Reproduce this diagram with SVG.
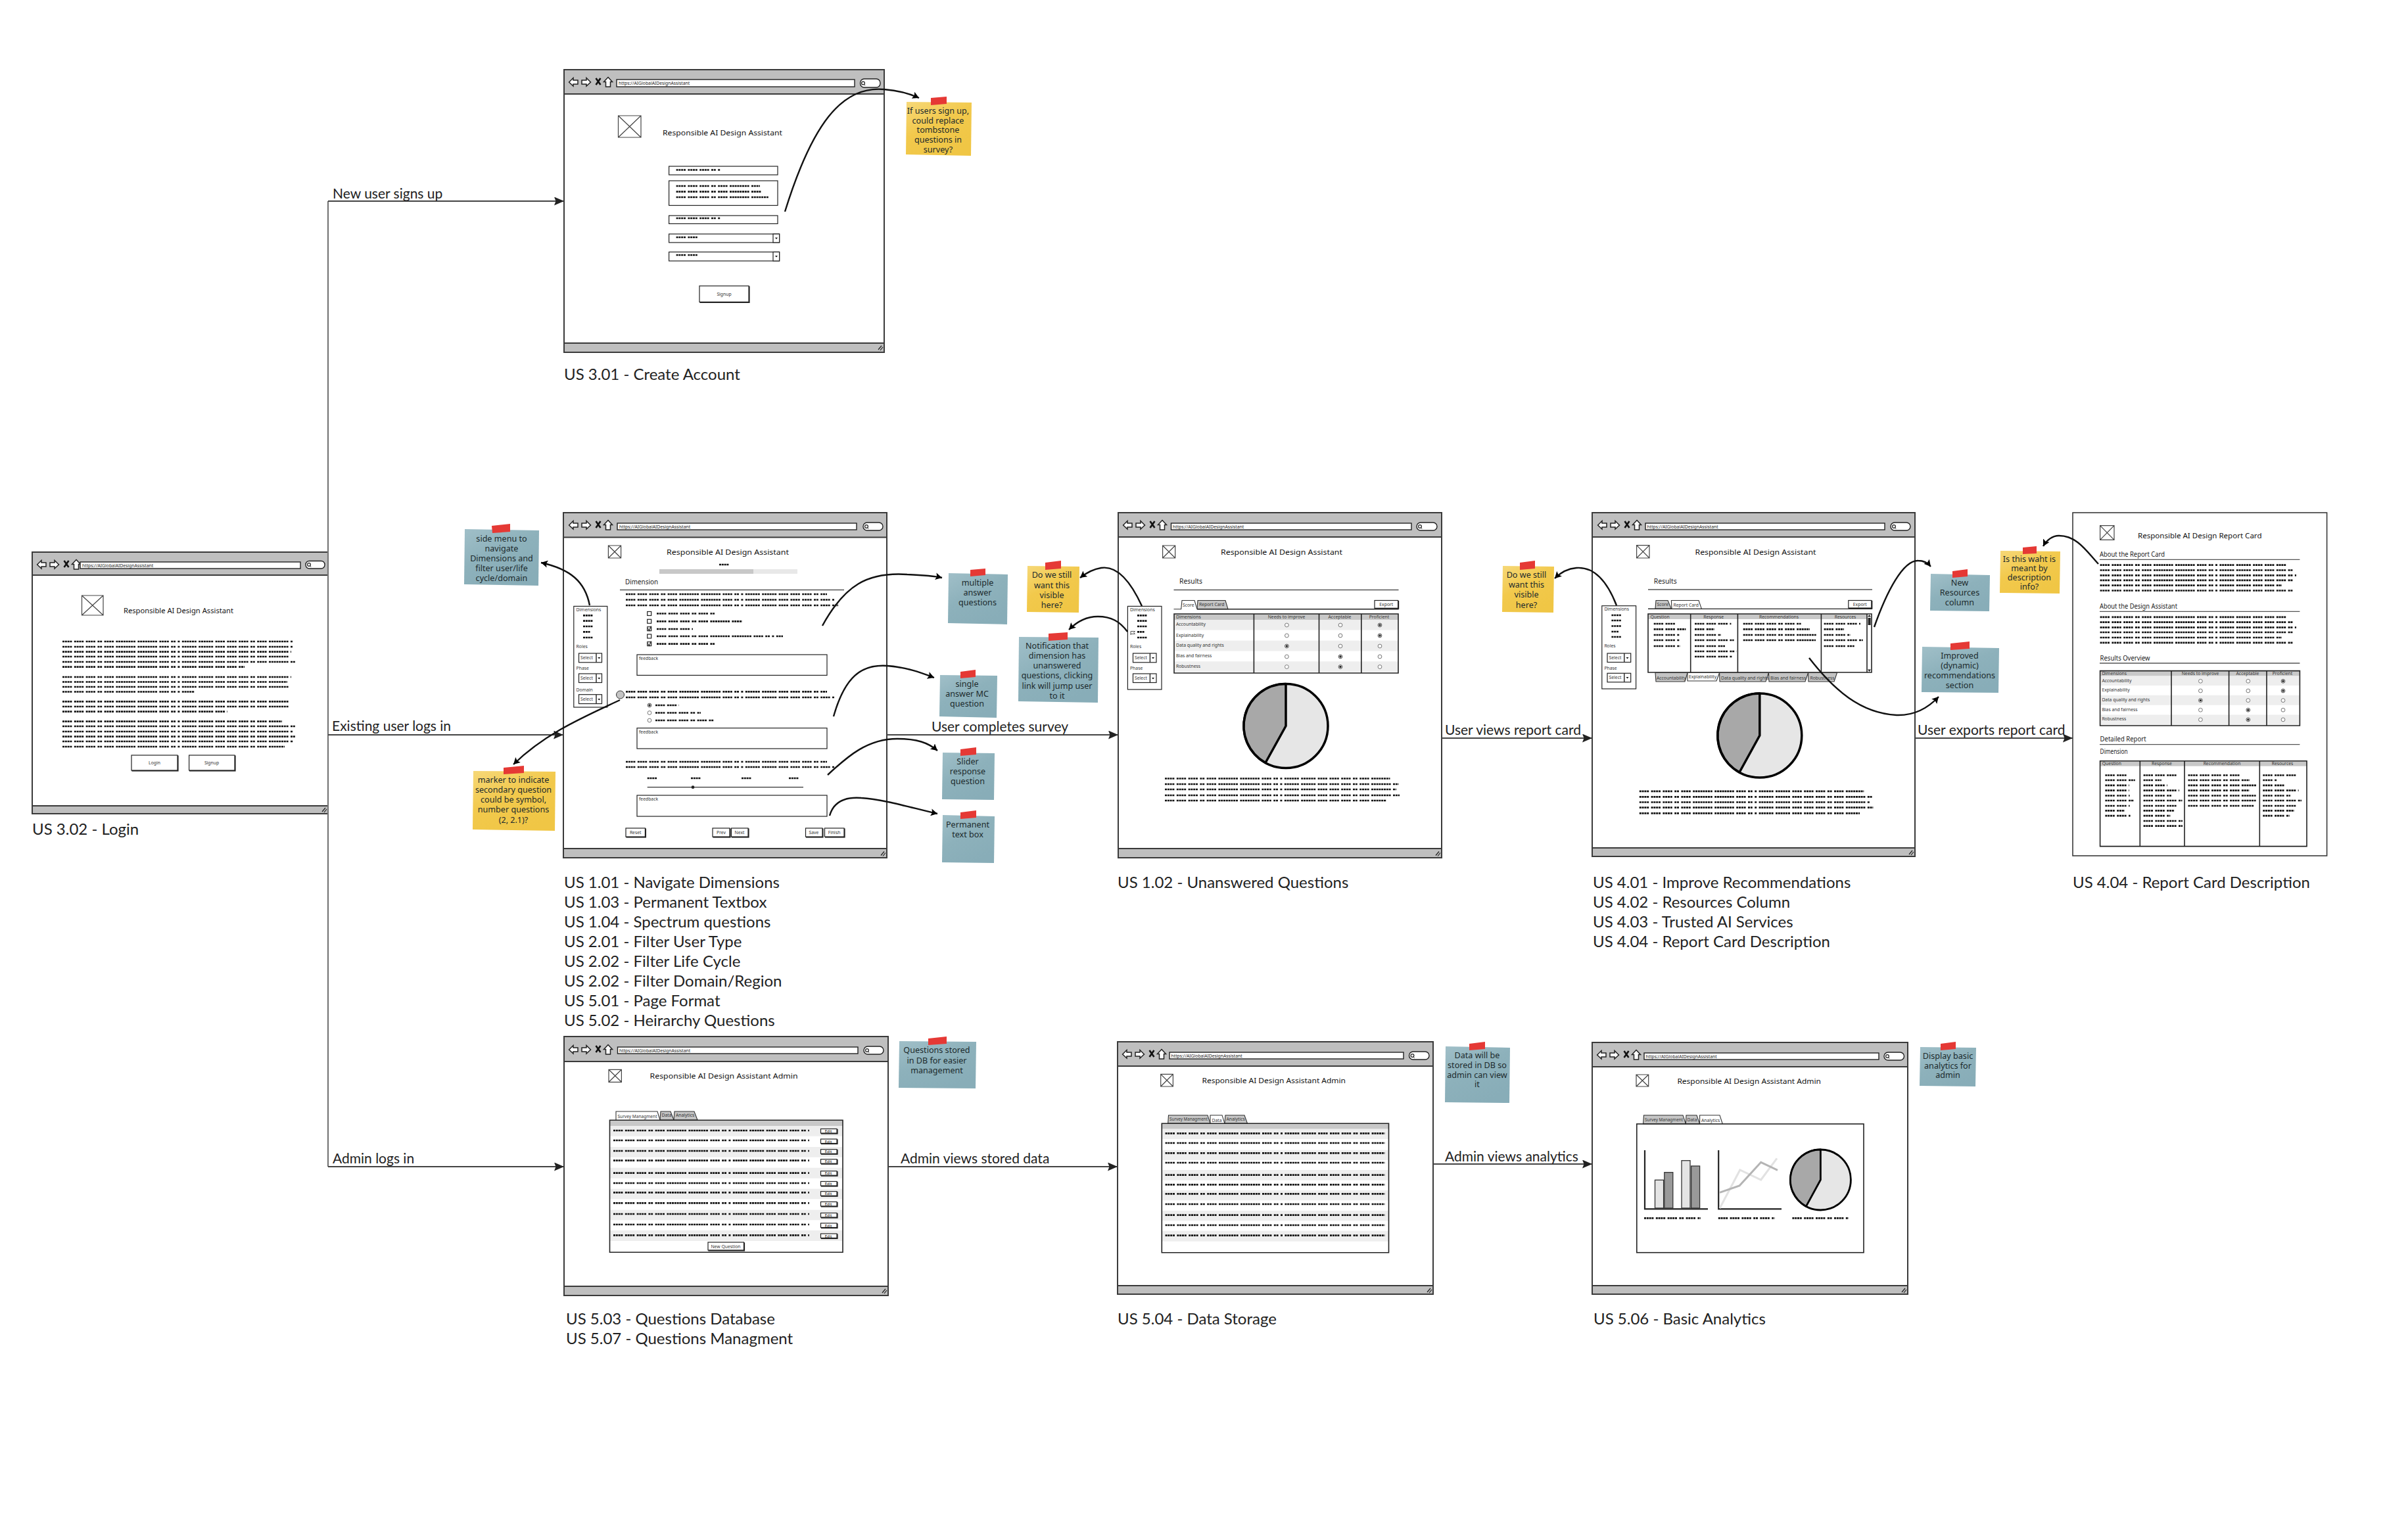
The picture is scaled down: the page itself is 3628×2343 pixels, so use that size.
<svg xmlns="http://www.w3.org/2000/svg" width="3628" height="2343" viewBox="0 0 3628 2343">
<style>
text{font-family:"Noto Sans","Open Sans",sans-serif;fill:#222}
.b{fill:#fff;stroke:#3a3a3a;stroke-width:2}
.bar{fill:#bfbfbf;stroke:#3a3a3a;stroke-width:2}
.u{fill:#fff;stroke:#222;stroke-width:1.4}
.f{fill:#fff;stroke:#222;stroke-width:1.2}
.ph{fill:#fff;stroke:#444;stroke-width:1.2}
.s{fill:none;stroke:#111;stroke-width:2.7;stroke-dasharray:3 .8 3 .8 3 .8 3 3.4 3 .8 3 .8 3 .8 3 3.4 3 .8 3 .8 3 .8 3 3.4 3 .8 3 3.4 3 .8 3 .8 3 .8 3 3.4 3 .8 3 .8 3 .8 3 .8 3 .8 3 .8 3 .8 3 3.4 3 .8 3 .8 3 .8 3 .8 3 .8 3 .8 3 .8 3 3.4 3 .8 3 .8 3 .8 3 3.4 3 .8 3 3.4 3 3.4 3 .8 3 .8 3 .8 3 .8 3 .8 3 3.4 3 .8 3 .8 3 .8 3 .8 3 .8 3 3.4}
.btn{fill:#fff;stroke:#222;stroke-width:1.2;filter:drop-shadow(1.2px 1.5px 0 #222)}
.hr{fill:none;stroke:#555;stroke-width:1.3}
.ln{fill:none;stroke:#222;stroke-width:1.4}
.tabg{fill:#c4c4c4;stroke:#333;stroke-width:1.1}
.tabw{fill:#fff;stroke:#333;stroke-width:1.1}
.hd{fill:#c8c8c8}
.al{fill:#eee}
.tf{fill:none;stroke:#222;stroke-width:1.6}
.pie{fill:#e6e6e6;stroke:#000;stroke-width:3.5}
.wed{fill:#a8a8a8;stroke:#000;stroke-width:3.5;stroke-linejoin:round}
.tp{fill:#e53935}
.gy{fill:url(#gy)}
.gb{fill:url(#gb)}
.nt{font-size:12.6px;text-anchor:middle;fill:#1c2a2c}
.url{font-size:6.8px;fill:#222}
.tt{font-size:11.5px;fill:#111}
.h2{font-size:11px;fill:#222}
.m{font-size:6.8px;fill:#333}
.mc{font-size:6.8px;fill:#333;text-anchor:middle}
.cap{font-family:Lato,"Open Sans",sans-serif;font-size:24px;fill:#222}
.lab{font-family:Lato,"Open Sans",sans-serif;font-size:21px;fill:#222}
.st{fill:none;stroke:#444;stroke-width:2.2}
.cv{fill:none;stroke:#111;stroke-width:2.4}
</style>
<defs>
<linearGradient id="gy" x1="0" y1="0" x2="0.6" y2="1"><stop offset="0" stop-color="#f6d878"/><stop offset="0.5" stop-color="#f2c94c"/><stop offset="1" stop-color="#f0c645"/></linearGradient>
<linearGradient id="gb" x1="0" y1="0" x2="0.6" y2="1"><stop offset="0" stop-color="#a0bfc8"/><stop offset="0.5" stop-color="#8db1bb"/><stop offset="1" stop-color="#88adb8"/></linearGradient>
<marker id="a" markerUnits="userSpaceOnUse" markerWidth="16" markerHeight="14" refX="15" refY="6.5" orient="auto"><path d="M0 0L15 6.5L0 13L2.5 6.5Z" fill="#222"/></marker>
<marker id="c" markerUnits="userSpaceOnUse" markerWidth="12" markerHeight="12" refX="10" refY="5.5" orient="auto"><path d="M0 0L10 5.5L0 11L2 5.5Z" fill="#000"/></marker>
<g id="nav">
<path d="M8.6 19L15 12.5V16H22V22H15V25Z" fill="#fff" stroke="#222" stroke-width="1.5"/>
<path d="M41.5 19L35 12.5V16H28V22H35V25Z" fill="#fff" stroke="#222" stroke-width="1.5"/>
<path d="M49.5 13L56.5 23M56.5 13L49.5 23" stroke="#111" stroke-width="2.6" fill="none"/>
<path d="M68 11.5L74.5 18.5H71.5V26H64.5V18.5H61.5Z" fill="#fff" stroke="#222" stroke-width="1.5"/>
</g>
<g id="q"><circle cx="0" cy="0" r="2.4" fill="none" stroke="#222" stroke-width="1.2"/><path d="M1.6 1.8L3 3.6" stroke="#222"/></g>
<path id="gr" d="M-3 3L2 -3M0 4L4 -1" stroke="#222" stroke-width="1.2" fill="none"/>
<g id="ro"><circle r="2.9" fill="#fff" stroke="#777" stroke-width="1"/></g>
<g id="rs"><circle r="2.9" fill="#fff" stroke="#555" stroke-width="1"/><circle r="1.7" fill="#222"/></g>
<path id="dd" d="M-2 -1H2L0 1.5Z" fill="#111"/>
</defs>
<rect width="3628" height="2343" fill="#fff"/>

<g id="login">
<rect class="b" x="49" y="840" width="450" height="398"/>
<rect class="bar" x="49" y="840" width="450" height="35"/>
<rect class="bar" x="49" y="1226" width="450" height="12"/>
<use href="#nav" x="48" y="840"/>
<rect class="u" x="122" y="855" width="335" height="10"/>
<text class="url" x="125" y="862.5">https://AIGlobalAIDesignAssistant</text>
<rect class="u" x="465" y="853.5" width="29" height="11.5" rx="5.5"/>
<use href="#q" x="470" y="859"/>
<use href="#gr" x="493" y="1232"/>
<path class="ph" d="M124.5 906h32.5v30h-32.5zl32.5 30m0-30l-32.5 30"/>
<text class="tt" x="188" y="933" textLength="167" lengthAdjust="spacingAndGlyphs">Responsible AI Design Assistant</text>
<path class="s" d="M95 976H445M95 984H445M95 991.6H443M95 999H440M95 1007H449M95 1014.6H372M95 1030H443M95 1037.5H437M95 1045H442M95 1052.5H296M95 1067.4H442M95 1075H441M95 1082.7H346M95 1097.6H429M95 1105H449M95 1113H445M95 1120.6H449M95 1128H446M95 1136H433"/>
<rect class="btn" x="200" y="1149" width="70" height="23"/>
<rect class="btn" x="287.6" y="1149" width="69.4" height="23"/>
<text class="mc" x="235" y="1163">Login</text>
<text class="mc" x="322" y="1163">Signup</text>
</g>

<g id="create">
<rect class="b" x="858" y="106" width="487" height="430"/>
<rect class="bar" x="858" y="106" width="487" height="37"/>
<rect class="bar" x="858" y="522" width="487" height="14"/>
<use href="#nav" x="857" y="106"/>
<rect class="u" x="938" y="121" width="362" height="11"/>
<text class="url" x="941" y="129">https://AIGlobalAIDesignAssistant</text>
<rect class="u" x="1308.6" y="120" width="30.4" height="13" rx="6"/>
<use href="#q" x="1313" y="126.5"/>
<use href="#gr" x="1339" y="529"/>
<path class="ph" d="M940.5 176h34.5v33h-34.5zl34.5 33m0-33l-34.5 33"/>
<text class="tt" x="1008" y="205.5" textLength="182" lengthAdjust="spacingAndGlyphs">Responsible AI Design Assistant</text>
<rect class="f" x="1017.6" y="253" width="165.4" height="13"/>
<rect class="f" x="1017.6" y="275" width="165.4" height="37.5"/>
<rect class="f" x="1017.6" y="328" width="165.4" height="12.4"/>
<rect class="f" x="1017.6" y="356" width="168" height="13"/>
<rect class="f" x="1176" y="356" width="9.6" height="13"/>
<rect class="f" x="1017.6" y="383.4" width="168" height="13.6"/>
<rect class="f" x="1176" y="383.4" width="9.6" height="13.6"/>
<use href="#dd" x="1181" y="362.5"/><use href="#dd" x="1181" y="390"/>
<path class="s" d="M1028.6 258.5H1096M1028.6 283H1156M1028.6 291.6H1158M1028.6 300H1169.5M1028.6 332H1096M1028.6 361H1064M1028.6 388H1064"/>
<rect class="btn" x="1064" y="435" width="75" height="24.4"/>
<text class="mc" x="1101.5" y="450">Signup</text>
</g>

<g id="survey">
<rect class="b" x="857" y="780" width="492" height="525"/>
<rect class="bar" x="857" y="780" width="492" height="37.5"/>
<rect class="bar" x="857" y="1291" width="492" height="14"/>
<use href="#nav" x="857" y="780"/>
<rect class="u" x="939" y="796" width="364" height="10"/>
<text class="url" x="942" y="803.5">https://AIGlobalAIDesignAssistant</text>
<rect class="u" x="1313" y="795" width="30" height="12" rx="6"/>
<use href="#q" x="1318" y="801"/>
<use href="#gr" x="1343" y="1298.5"/>
<path class="ph" d="M925.4 830h19.2v19h-19.2zl19.2 19m0-19l-19.2 19"/>
<text class="tt" x="1014" y="844" textLength="186" lengthAdjust="spacingAndGlyphs">Responsible AI Design Assistant</text>
<path class="s" d="M1094 859H1111"/>
<rect x="1003" y="866" width="210" height="7" fill="#e8e8e8"/>
<rect x="1003" y="866" width="143" height="7" fill="#c8c8c8"/>
<text class="h2" x="951" y="888.5" textLength="50" lengthAdjust="spacingAndGlyphs">Dimension</text>
<path class="hr" d="M943 897.5H1284"/>
<path class="s" d="M952 904H1258M952 912.5H1269M952 921H1275"/>
<g class="f"><rect x="984.7" y="930.5" width="6" height="6"/><rect x="984.7" y="942.3" width="6" height="6"/><rect x="984.7" y="953.7" width="6" height="6"/><rect x="984.7" y="965" width="6" height="6"/><rect x="984.7" y="976.6" width="6" height="6"/></g>
<path d="M985.5 956l2 3.5l3-7M985.5 979l2 3.5l3-7" fill="none" stroke="#222" stroke-width="1.1"/>
<path class="s" d="M999 933.5H1087M999 945.3H1129M999 957H1054M999 968H1191M999 979.6H1087"/>
<rect class="f" x="969" y="996" width="289" height="31.4"/>
<text class="m" x="972" y="1004">feedback</text>
<path class="s" d="M952 1052.4H1258M952 1061H1269"/>
<use href="#rs" x="988" y="1073"/><use href="#ro" x="988" y="1084.5"/><use href="#ro" x="988" y="1096"/>
<path class="s" d="M997 1073H1033M997 1084.5H1066M997 1096H1085.6"/>
<rect class="f" x="969" y="1107.7" width="289" height="31.3"/>
<text class="m" x="972" y="1115.7">feedback</text>
<path class="s" d="M952 1159H1258M952 1167H1269M984.7 1184H1001M1051 1184H1067.5M1128 1184H1145M1200 1184H1216.7"/>
<path d="M984.7 1197.7H1222" stroke="#333" stroke-width="1.2"/>
<circle cx="1054" cy="1197.7" r="2.4" fill="#222"/>
<rect class="f" x="969" y="1210" width="289" height="32"/>
<text class="m" x="972" y="1218">feedback</text>
<rect class="btn" x="952" y="1260" width="29.4" height="13"/><rect class="btn" x="1084" y="1260" width="26" height="13"/><rect class="btn" x="1112.5" y="1260" width="25.5" height="13"/><rect class="btn" x="1225.5" y="1260" width="25.5" height="13"/><rect class="btn" x="1254.5" y="1260" width="29.5" height="13"/>
<text class="mc" x="966.7" y="1269">Reset</text><text class="mc" x="1097" y="1269">Prev</text><text class="mc" x="1125" y="1269">Next</text><text class="mc" x="1238" y="1269">Save</text><text class="mc" x="1269" y="1269">Finish</text>
<circle cx="943.5" cy="1057" r="6" fill="#c4c4c4" stroke="#333" stroke-width="1"/>
<rect class="f" x="872.8" y="922.4" width="51" height="153.6"/>
<text class="m" x="876.6" y="930">Dimensions</text>
<path class="s" d="M887 936.4H903.5M887 944.6H903.5M887 953H903.5M887 961.4H897.5M887 970H903.5"/>
<text class="m" x="876.6" y="985.6">Roles</text>
<rect class="f" x="880.5" y="994" width="35" height="13.8"/><path class="ln" d="M907 994V1007.8"/><text class="m" x="883" y="1003">Select</text><use href="#dd" x="911.3" y="1001"/>
<text class="m" x="876.6" y="1019">Phase</text>
<rect class="f" x="880.5" y="1025" width="35" height="13.5"/><path class="ln" d="M907 1025V1038.5"/><text class="m" x="883" y="1034">Select</text><use href="#dd" x="911.3" y="1032"/>
<text class="m" x="876.6" y="1052">Domain</text>
<rect class="f" x="880.5" y="1056.7" width="35" height="13.9"/><path class="ln" d="M907 1056.7V1070.6"/><text class="m" x="883" y="1066">Select</text><use href="#dd" x="911.3" y="1064"/>
</g>

<g id="results">
<rect class="b" x="1701" y="780" width="492" height="525"/>
<rect class="bar" x="1701" y="780" width="492" height="37"/>
<rect class="bar" x="1701" y="1291" width="492" height="14"/>
<use href="#nav" x="1700" y="780"/>
<rect class="u" x="1781.5" y="796" width="365.5" height="10"/>
<text class="url" x="1784" y="803.5">https://AIGlobalAIDesignAssistant</text>
<rect class="u" x="2155" y="795" width="31" height="12" rx="6"/>
<use href="#q" x="2160" y="801"/>
<use href="#gr" x="2187" y="1298.5"/>
<path class="ph" d="M1768.6 830h19.1v19h-19.1zl19.1 19m0-19l-19.1 19"/>
<text class="tt" x="1857" y="844" textLength="185" lengthAdjust="spacingAndGlyphs">Responsible AI Design Assistant</text>
<text class="h2" x="1794" y="888" textLength="35" lengthAdjust="spacingAndGlyphs">Results</text>
<path class="hr" d="M1785.5 897.5H2127.5"/>
<path class="tabg" d="M1821 926.7L1822 913.5H1864L1868 926.7Z"/>
<path class="tabw" d="M1785.5 926.7H1796.7L1798 913.5H1817L1821 926.7"/>
<path class="ln" d="M1821 926.7H2127.5"/>
<text class="m" x="1799" y="923">Score</text><text class="m" x="1824" y="922">Report Card</text>
<rect class="btn" x="2091" y="913.5" width="35.6" height="11.8"/><text class="mc" x="2108.8" y="922">Export</text>
<rect class="hd" x="1786" y="934" width="341" height="9"/>
<rect class="al" x="1786" y="943" width="341" height="15.5"/><rect class="al" x="1786" y="974.6" width="341" height="16"/><rect class="al" x="1786" y="1006.3" width="341" height="16"/>
<path class="tf" d="M1786 934H2127V1024H1786ZM1907.4 934V1024M2006.5 934V1024M2070.8 934V1024"/>
<text class="m" x="1789" y="940.8">Dimensions</text><text class="mc" x="1957" y="940.8">Needs to improve</text><text class="mc" x="2038" y="940.8">Acceptable</text><text class="mc" x="2098" y="940.8">Proficient</text>
<text class="m" x="1789" y="952.4">Accountability</text><text class="m" x="1789" y="968.5">Explainability</text><text class="m" x="1789" y="984.2">Data quality and rights</text><text class="m" x="1789" y="1000.3">Bias and fairness</text><text class="m" x="1789" y="1016">Robustness</text>
<use href="#ro" x="1957.4" y="951"/><use href="#ro" x="2039" y="951"/><use href="#rs" x="2099" y="951"/>
<use href="#ro" x="1957.4" y="967"/><use href="#ro" x="2039" y="967"/><use href="#rs" x="2099" y="967"/>
<use href="#rs" x="1957.4" y="983"/><use href="#ro" x="2039" y="983"/><use href="#ro" x="2099" y="983"/>
<use href="#ro" x="1957.4" y="999"/><use href="#rs" x="2039" y="999"/><use href="#ro" x="2099" y="999"/>
<use href="#ro" x="1957.4" y="1014.5"/><use href="#rs" x="2039" y="1014.5"/><use href="#ro" x="2099" y="1014.5"/>
<circle class="pie" cx="1956" cy="1104.5" r="64"/>
<path class="wed" d="M1956 1104.5V1040.5A64 64 0 0 0 1925 1160.5Z"/>
<path class="s" d="M1772 1184.5H2114.5M1772 1193H2127.5M1772 1201H2124M1772 1210H2129M1772 1218H2109"/>
<rect class="f" x="1715.4" y="922.4" width="51.6" height="126.6"/>
<text class="m" x="1719" y="930">Dimensions</text>
<path class="s" d="M1730 936.4H1746.7M1730 944.6H1746.7M1730 953H1746.7M1730 961.4H1741M1730 970H1746.7"/>
<path d="M1720 966V960.5H1726.5L1724.5 962.5L1726.5 964.5H1720" fill="none" stroke="#444" stroke-width="0.9"/>
<text class="m" x="1719" y="985.6">Roles</text>
<rect class="f" x="1723.5" y="994" width="35.5" height="13.8"/><path class="ln" d="M1749.4 994V1007.8"/><text class="m" x="1726" y="1003">Select</text><use href="#dd" x="1754" y="1001"/>
<text class="m" x="1719" y="1019">Phase</text>
<rect class="f" x="1723.5" y="1025" width="35.5" height="13.5"/><path class="ln" d="M1749.4 1025V1038.5"/><text class="m" x="1726" y="1034">Select</text><use href="#dd" x="1754" y="1032"/>
</g>

<g id="reportcard">
<rect class="b" x="2422" y="780" width="491" height="523"/>
<rect class="bar" x="2422" y="780" width="491" height="37"/>
<rect class="bar" x="2422" y="1290" width="491" height="13"/>
<use href="#nav" x="2422" y="780"/>
<rect class="u" x="2503" y="796" width="364" height="10"/>
<text class="url" x="2505.5" y="803.5">https://AIGlobalAIDesignAssistant</text>
<rect class="u" x="2876" y="795" width="30" height="12" rx="6"/>
<use href="#q" x="2881" y="801"/>
<use href="#gr" x="2907" y="1297"/>
<path class="ph" d="M2489.6 829.6h19.4v19.4h-19.4zl19.4 19.4m0-19.4l-19.4 19.4"/>
<text class="tt" x="2578.5" y="844" textLength="184" lengthAdjust="spacingAndGlyphs">Responsible AI Design Assistant</text>
<text class="h2" x="2515.7" y="888" textLength="35" lengthAdjust="spacingAndGlyphs">Results</text>
<path class="hr" d="M2507 897H2848"/>
<path class="tabg" d="M2518 926.4L2519 913.5H2537L2542.4 926.4Z"/>
<path class="tabw" d="M2507 926.4H2543L2542.4 913.5H2584L2588.4 926.4"/>
<path class="ln" d="M2507 926.4H2848"/>
<text class="m" x="2520.5" y="922">Score</text><text class="m" x="2545.5" y="923">Report Card</text>
<rect class="btn" x="2811.8" y="913.5" width="35" height="11.5"/><text class="mc" x="2829.3" y="922">Export</text>
<rect class="hd" x="2507" y="934" width="333" height="8"/>
<path class="tf" d="M2507 934H2847V1023H2507ZM2571.7 934V1023M2643.4 934V1023M2770.4 934V1023M2840 934V1023"/>
<rect x="2841.6" y="940" width="4" height="11" fill="#222"/>
<path d="M2843.5 935L2841 938.5H2846ZM2843.5 1022L2841 1018.5H2846Z" fill="#222"/>
<text class="m" x="2510.5" y="940.5">Question</text><text class="mc" x="2606.7" y="940.5">Response</text><text class="mc" x="2706" y="940.5">Recommendations</text><text class="mc" x="2807" y="940.5">Resources</text>
<path class="s" d="M2515.7 949H2551M2515.7 957.4H2564.4M2515.7 966H2554.4M2515.7 974H2554.4M2515.7 983H2555.5M2578 949H2633.4M2578 957.4H2607.8M2578 966H2618M2578 974H2637.6M2578 983H2624M2578 991H2641.8M2578 999H2635M2651.7 949H2739.6M2651.7 957.4H2753M2651.7 966H2764M2651.7 974H2762M2774.6 949H2830M2774.6 957.4H2805M2774.6 966H2814.4M2774.6 974H2833.7M2774.6 983H2820.7"/>
<path class="tabg" d="M2518 1023.5L2519 1037H2563L2567 1023.5Z"/>
<path class="tabg" d="M2615.6 1023.5L2616 1037H2686L2690.4 1023.5Z"/>
<path class="tabg" d="M2690.4 1023.5L2691 1037H2746L2750.6 1023.5Z"/>
<path class="tabg" d="M2750.6 1023.5L2751 1037H2790L2794.5 1023.5Z"/>
<path class="tabw" d="M2567 1023.5L2567 1036H2611L2615.6 1023.5Z"/>
<text class="m" x="2520" y="1034">Accountability</text><text class="m" x="2569" y="1032">Explainability</text><text class="m" x="2618" y="1034">Data quality and rights</text><text class="m" x="2693" y="1034">Bias and fairness</text><text class="m" x="2753.5" y="1034">Robustness</text>
<circle class="pie" cx="2676.8" cy="1119" r="64"/>
<path class="wed" d="M2676.8 1119V1055A64 64 0 0 0 2646 1175Z"/>
<path class="s" d="M2493.8 1203.8H2835.3M2493.8 1212.3H2847.9M2493.8 1220.5H2844.7M2493.8 1228.7H2849.4M2493.8 1237.3H2829"/>
<rect class="f" x="2436.8" y="921.7" width="51.8" height="126.3"/>
<text class="m" x="2440.4" y="929">Dimensions</text>
<path class="s" d="M2451.4 936H2468M2451.4 944H2468M2451.4 952.5H2468M2451.4 961H2462M2451.4 969H2468"/>
<text class="m" x="2440.4" y="985">Roles</text>
<rect class="f" x="2445" y="994" width="35.7" height="13.5"/><path class="ln" d="M2470.8 994V1007.5"/><text class="m" x="2447.5" y="1003">Select</text><use href="#dd" x="2475.5" y="1001"/>
<text class="m" x="2440.4" y="1018.5">Phase</text>
<rect class="f" x="2445" y="1024.3" width="35.7" height="13.5"/><path class="ln" d="M2470.8 1024.3V1037.8"/><text class="m" x="2447.5" y="1033">Select</text><use href="#dd" x="2475.5" y="1031"/>
</g>

<g id="reportdoc">
<rect class="b" x="3153" y="780" width="386.6" height="522" style="stroke-width:1.6"/>
<path class="ph" d="M3194.6 799.6h21.4v21.8h-21.4zl21.4 21.8m0-21.8l-21.4 21.8"/>
<text class="tt" x="3252" y="818.5" textLength="188.5" lengthAdjust="spacingAndGlyphs">Responsible AI Design Report Card</text>
<text class="h2" x="3194" y="847" textLength="99" lengthAdjust="spacingAndGlyphs">About the Report Card</text>
<path class="hr" d="M3194 851.4H3498.4"/>
<path class="s" d="M3194.6 859.6H3478M3194.6 867.5H3487.7M3194.6 875.3H3493M3194.6 882.8H3488.4M3194.6 890.7H3471M3194.6 898.5H3490.5"/>
<text class="h2" x="3194" y="926" textLength="118" lengthAdjust="spacingAndGlyphs">About the Design Assistant</text>
<path class="hr" d="M3194 930.3H3498.4"/>
<path class="s" d="M3194.6 938.9H3478M3194.6 946.7H3487.7M3194.6 954.6H3493M3194.6 962H3488.4M3194.6 970H3471M3194.6 977.8H3490.5"/>
<text class="h2" x="3194.6" y="1005" textLength="76" lengthAdjust="spacingAndGlyphs">Results Overview</text>
<path class="hr" d="M3194 1009H3498.4"/>
<rect class="hd" x="3194.6" y="1020.6" width="303.8" height="7.9"/>
<rect class="al" x="3194.6" y="1028.5" width="303.8" height="14.5"/><rect class="al" x="3194.6" y="1057.7" width="303.8" height="15"/><rect class="al" x="3194.6" y="1087.4" width="303.8" height="15.6"/>
<path class="tf" d="M3194.6 1020.6H3498.4V1104H3194.6ZM3303 1020.6V1104M3390.6 1020.6V1104M3448 1020.6V1104"/>
<text class="m" x="3197.4" y="1027">Dimensions</text><text class="mc" x="3347" y="1027">Needs to improve</text><text class="mc" x="3419" y="1027">Acceptable</text><text class="mc" x="3472" y="1027">Proficient</text>
<text class="m" x="3197.4" y="1037.8">Accountability</text><text class="m" x="3197.4" y="1052.4">Explainability</text><text class="m" x="3197.4" y="1067">Data quality and rights</text><text class="m" x="3197.4" y="1081.7">Bias and fairness</text><text class="m" x="3197.4" y="1096.3">Robustness</text>
<use href="#ro" x="3347.4" y="1036.3"/><use href="#ro" x="3419.8" y="1036.3"/><use href="#rs" x="3473" y="1036.3"/>
<use href="#ro" x="3347.4" y="1051"/><use href="#ro" x="3419.8" y="1051"/><use href="#rs" x="3473" y="1051"/>
<use href="#rs" x="3347.4" y="1065.6"/><use href="#ro" x="3419.8" y="1065.6"/><use href="#ro" x="3473" y="1065.6"/>
<use href="#ro" x="3347.4" y="1080.2"/><use href="#rs" x="3419.8" y="1080.2"/><use href="#ro" x="3473" y="1080.2"/>
<use href="#ro" x="3347.4" y="1094.9"/><use href="#rs" x="3419.8" y="1094.9"/><use href="#ro" x="3473" y="1094.9"/>
<text class="h2" x="3194.6" y="1128" textLength="70" lengthAdjust="spacingAndGlyphs">Detailed Report</text>
<path class="hr" d="M3194 1132.7H3498.4"/>
<text class="h2" x="3194.6" y="1147" textLength="42" lengthAdjust="spacingAndGlyphs">Dimension</text>
<rect class="hd" x="3194.6" y="1157.7" width="314.4" height="7.9"/>
<path class="tf" d="M3194.6 1157.7H3509V1287.6H3194.6ZM3255.3 1157.7V1287.6M3323 1157.7V1287.6M3437.3 1157.7V1287.6"/>
<text class="m" x="3197.8" y="1163.6">Question</text><text class="mc" x="3288.5" y="1163.6">Response</text><text class="mc" x="3380" y="1163.6">Recommendation</text><text class="mc" x="3472" y="1163.6">Resources</text>
<path class="s" d="M3202.4 1179.5H3235.3M3202.4 1187H3247.8M3202.4 1194.8H3238.8M3202.4 1202.7H3238.8M3202.4 1210.5H3239.6M3202.4 1218H3246M3202.4 1226H3239.6M3202.4 1233.4H3232M3202.4 1241.2H3240.6M3260.6 1179.5H3311.3M3260.6 1187H3287.8M3260.6 1194.8H3297M3260.6 1202.7H3315M3260.6 1210.5H3303M3260.6 1218H3319.5M3260.6 1226H3312.4M3260.6 1233.4H3307.7M3260.6 1241.2H3301.3M3260.6 1249H3320M3260.6 1256.6H3320M3328.5 1179.5H3409.5M3328.5 1187H3422M3328.5 1194.8H3432.3M3328.5 1202.7H3421.6M3328.5 1210.5H3431.6M3328.5 1218H3431.6M3328.5 1226H3429M3442.3 1179.5H3493M3442.3 1187H3463.8M3442.3 1194.8H3477M3442.3 1202.7H3496.6M3442.3 1210.5H3484M3442.3 1218H3501M3442.3 1226H3494.8M3442.3 1233.4H3489.8M3442.3 1241.2H3482.7"/>
</g>

<g id="admin-questions">
<rect class="b" x="858" y="1577" width="493" height="394"/>
<rect class="bar" x="858" y="1577" width="493" height="38"/>
<rect class="bar" x="858" y="1957" width="493" height="14"/>
<use href="#nav" x="857" y="1578"/>
<rect class="u" x="939.5" y="1593" width="365.5" height="10"/>
<text class="url" x="942" y="1600.5">https://AIGlobalAIDesignAssistant</text>
<rect class="u" x="1314" y="1592" width="30" height="12" rx="6"/>
<use href="#q" x="1319" y="1598"/>
<use href="#gr" x="1345" y="1964"/>
<path class="ph" d="M926 1627.3h19.4v19h-19.4zl19.4 19m0-19l-19.4 19"/>
<text class="tt" x="988.6" y="1641" textLength="225" lengthAdjust="spacingAndGlyphs">Responsible AI Design Assistant Admin</text>
<path class="tabg" d="M1004 1704L1005 1691H1020L1025 1704Z"/>
<path class="tabg" d="M1025 1704L1026 1691H1056L1061 1704Z"/>
<path class="tabw" d="M937 1704V1691H1000L1004 1704"/>
<text class="m" x="939.5" y="1701" textLength="60" lengthAdjust="spacingAndGlyphs">Survey Managment</text><text class="m" x="1006.5" y="1699">Data</text><text class="m" x="1028" y="1699">Analytics</text>
<rect class="hd" x="927.5" y="1704.3" width="354.5" height="9"/>
<rect class="al" x="927.5" y="1713.3" width="354.5" height="15.4"/><rect class="al" x="927.5" y="1745" width="354.5" height="15.7"/><rect class="al" x="927.5" y="1776.7" width="354.5" height="16"/><rect class="al" x="927.5" y="1808.7" width="354.5" height="15.6"/><rect class="al" x="927.5" y="1840.7" width="354.5" height="15.6"/><rect class="al" x="927.5" y="1872" width="354.5" height="16"/>
<path class="tf" d="M927.5 1704.3H1282V1905.3H927.5Z"/>
<path class="s" d="M933 1720H1231M933 1735H1231M933 1751H1231M933 1765.7H1231M933 1784.7H1231M933 1800H1231M933 1814.3H1231M933 1830.3H1231M933 1847H1231M933 1863H1231M933 1879.3H1231"/>
<g class="btn"><rect x="1248.5" y="1717.5" width="24.5" height="6.5"/><rect x="1248.5" y="1733" width="24.5" height="6.5"/><rect x="1248.5" y="1748.7" width="24.5" height="6.5"/><rect x="1248.5" y="1763.7" width="24.5" height="6.5"/><rect x="1248.5" y="1781.7" width="24.5" height="6.5"/><rect x="1248.5" y="1797.5" width="24.5" height="6.5"/><rect x="1248.5" y="1812.7" width="24.5" height="6.5"/><rect x="1248.5" y="1828.5" width="24.5" height="6.5"/><rect x="1248.5" y="1845.5" width="24.5" height="6.5"/><rect x="1248.5" y="1861" width="24.5" height="6.5"/><rect x="1248.5" y="1877" width="24.5" height="6.5"/></g>
<g class="mc" style="font-size:6px"><text x="1260" y="1723">Edit</text><text x="1260" y="1738.6">Edit</text><text x="1260" y="1754.2">Edit</text><text x="1260" y="1769.2">Edit</text><text x="1260" y="1787.2">Edit</text><text x="1260" y="1803">Edit</text><text x="1260" y="1818.2">Edit</text><text x="1260" y="1834">Edit</text><text x="1260" y="1851">Edit</text><text x="1260" y="1866.5">Edit</text><text x="1260" y="1882.5">Edit</text></g>
<rect class="btn" x="1077" y="1890" width="54.5" height="12"/><text class="mc" x="1104" y="1899">New Question</text>
</g>

<g id="admin-data">
<rect class="b" x="1700" y="1585" width="480" height="384"/>
<rect class="bar" x="1700" y="1585" width="480" height="37"/>
<rect class="bar" x="1700" y="1956" width="480" height="13"/>
<use href="#nav" x="1699" y="1585"/>
<rect class="u" x="1779" y="1601" width="356" height="10"/>
<text class="url" x="1781.5" y="1608.5">https://AIGlobalAIDesignAssistant</text>
<rect class="u" x="2143.5" y="1600" width="30.5" height="12" rx="6"/>
<use href="#q" x="2148.5" y="1606"/>
<use href="#gr" x="2174" y="1963"/>
<path class="ph" d="M1765.7 1634.3h18.7v18.7h-18.7zl18.7 18.7m0-18.7l-18.7 18.7"/>
<text class="tt" x="1828.5" y="1648.3" textLength="218.5" lengthAdjust="spacingAndGlyphs">Responsible AI Design Assistant Admin</text>
<path class="tabg" d="M1776.7 1709.3L1777.5 1696.7H1837L1841 1709.3Z"/>
<path class="tabg" d="M1863 1709.3L1864 1696.7H1893L1897.5 1709.3Z"/>
<path class="tabw" d="M1841 1709.3V1696.7H1859L1863 1709.3"/>
<text class="m" x="1779" y="1705" textLength="58" lengthAdjust="spacingAndGlyphs">Survey Managment</text><text class="m" x="1843.5" y="1706.5">Data</text><text class="m" x="1865.5" y="1705">Analytics</text>
<rect class="hd" x="1767.3" y="1709.3" width="345.2" height="8.4"/>
<rect class="al" x="1767.3" y="1717.7" width="345.2" height="15.3"/><rect class="al" x="1767.3" y="1749.7" width="345.2" height="15.3"/><rect class="al" x="1767.3" y="1780" width="345.2" height="15.7"/><rect class="al" x="1767.3" y="1811" width="345.2" height="15.3"/><rect class="al" x="1767.3" y="1842" width="345.2" height="15.3"/><rect class="al" x="1767.3" y="1872.7" width="345.2" height="16"/>
<path class="tf" d="M1767.3 1709.3H2112.5V1905.7H1767.3Z"/>
<path class="s" d="M1772.6 1724.3H2106.4M1772.6 1739H2106.4M1772.6 1754.3H2106.4M1772.6 1769H2106.4M1772.6 1787.7H2106.4M1772.6 1802.3H2106.4M1772.6 1816.3H2106.4M1772.6 1832H2106.4M1772.6 1848.7H2106.4M1772.6 1864H2106.4M1772.6 1879.7H2106.4"/>
</g>

<g id="admin-analytics">
<rect class="b" x="2422" y="1586" width="480" height="383"/>
<rect class="bar" x="2422" y="1586" width="480" height="37"/>
<rect class="bar" x="2422" y="1956" width="480" height="13"/>
<use href="#nav" x="2421" y="1586"/>
<rect class="u" x="2501" y="1602" width="357" height="10"/>
<text class="url" x="2503.5" y="1609.5">https://AIGlobalAIDesignAssistant</text>
<rect class="u" x="2866" y="1601" width="30.5" height="12" rx="6"/>
<use href="#q" x="2871" y="1607"/>
<use href="#gr" x="2896" y="1963"/>
<path class="ph" d="M2489 1635h18.7v18h-18.7zl18.7 18m0-18l-18.7 18"/>
<text class="tt" x="2551.4" y="1648.7" textLength="218.6" lengthAdjust="spacingAndGlyphs">Responsible AI Design Assistant Admin</text>
<path class="tabg" d="M2499.6 1710L2500.5 1696.7H2560L2564.4 1710Z"/>
<path class="tabg" d="M2564.4 1710L2565 1696.7H2581L2585.6 1710Z"/>
<path class="tabw" d="M2585.6 1710V1696.7H2616L2620.3 1710"/>
<text class="m" x="2502" y="1705.5" textLength="58" lengthAdjust="spacingAndGlyphs">Survey Managment</text><text class="m" x="2566.5" y="1705.5">Data</text><text class="m" x="2588" y="1706.5">Analytics</text>
<rect x="2489.8" y="1710" width="345.2" height="195.7" fill="none" stroke="#222" stroke-width="1.6"/>
<path d="M2502 1750V1839.3H2598M2614.2 1750V1839.3H2710" fill="none" stroke="#222" stroke-width="2.2"/>
<g stroke="#333" stroke-width="1.3"><rect x="2517.5" y="1795.3" width="13.1" height="42.7" fill="#e4e4e4"/><rect x="2531.8" y="1783.7" width="13" height="54.3" fill="#999"/><rect x="2558" y="1765.7" width="13" height="72.3" fill="#e4e4e4"/><rect x="2572.6" y="1774" width="13" height="64" fill="#999"/></g>
<path d="M2616 1838.3L2646.8 1780L2678.7 1795L2703 1762.3" fill="none" stroke="#e2e2e2" stroke-width="3"/>
<path d="M2616 1814.3L2646 1804L2678.7 1768.3L2704 1780.3" fill="none" stroke="#b4b4b4" stroke-width="3"/>
<circle class="pie" cx="2769.4" cy="1795" r="46" style="stroke-width:2.8"/>
<path class="wed" d="M2769.4 1795V1749A46 46 0 0 0 2747.4 1835.4Z" style="stroke-width:2.8"/>
<path class="s" d="M2501 1853.3H2587M2613.8 1853.3H2699.5M2726.4 1853.3H2812"/>
</g>

<g id="note-signup"><polygon class="gy" points="1379,155 1478,156 1477,237 1378,235"/><polygon class="tp" points="1416,149 1440,147 1440,158 1416,160"/><text class="nt"><tspan x="1427" y="173">If users sign up,</tspan><tspan x="1427" y="188">could replace</tspan><tspan x="1427" y="202">tombstone</tspan><tspan x="1427" y="217">questions in</tspan><tspan x="1427" y="232">survey?</tspan></text></g>
<g id="note-sidemenu"><polygon class="gb" points="707,805 820,807 819,891 706,889"/><polygon class="tp" points="748,800 776,797 776,809 749,811"/><text class="nt"><tspan x="763" y="824">side menu to</tspan><tspan x="763" y="839">navigate</tspan><tspan x="763" y="854">Dimensions and</tspan><tspan x="763" y="869">filter user/life</tspan><tspan x="763" y="884">cycle/domain</tspan></text></g>
<g id="note-marker"><polygon class="gy" points="720,1173 845,1174 844,1264 719,1262"/><polygon class="tp" points="766,1168 797,1165 797,1176 766,1178"/><text class="nt"><tspan x="781" y="1191">marker to indicate</tspan><tspan x="781" y="1206">secondary question</tspan><tspan x="781" y="1221">could be symbol,</tspan><tspan x="781" y="1236">number questions</tspan><tspan x="781" y="1252">(2, 2.1)?</tspan></text></g>
<g id="note-multi"><polygon class="gb" points="1443,872 1533,874 1532,950 1442,948"/><polygon class="tp" points="1476,867 1499,865 1499,875 1476,877"/><text class="nt"><tspan x="1487" y="891">multiple</tspan><tspan x="1487" y="906">answer</tspan><tspan x="1487" y="921">questions</tspan></text></g>
<g id="note-single"><polygon class="gb" points="1430,1027 1517,1028 1516,1092 1429,1090"/><polygon class="tp" points="1461,1022 1484,1019 1484,1030 1461,1032"/><text class="nt"><tspan x="1471" y="1045">single</tspan><tspan x="1471" y="1060">answer MC</tspan><tspan x="1471" y="1075">question</tspan></text></g>
<g id="note-slider"><polygon class="gb" points="1434,1145 1513,1146 1512,1217 1433,1216"/><polygon class="tp" points="1461,1140 1485,1137 1485,1148 1461,1150"/><text class="nt"><tspan x="1472" y="1163">Slider</tspan><tspan x="1472" y="1178">response</tspan><tspan x="1472" y="1193">question</tspan></text></g>
<g id="note-permanent"><polygon class="gb" points="1434,1240 1513,1242 1512,1313 1433,1312"/><polygon class="tp" points="1461,1236 1485,1233 1485,1244 1461,1246"/><text class="nt"><tspan x="1472" y="1259">Permanent</tspan><tspan x="1472" y="1274">text box</tspan></text></g>
<g id="note-visible1"><polygon class="gy" points="1563,861 1642,862 1641,932 1562,931"/><polygon class="tp" points="1590,856 1614,853 1614,865 1590,867"/><text class="nt"><tspan x="1600" y="879">Do we still</tspan><tspan x="1600" y="895">want this</tspan><tspan x="1600" y="910">visible</tspan><tspan x="1600" y="925">here?</tspan></text></g>
<g id="note-notify"><polygon class="gb" points="1550,969 1671,970 1670,1069 1549,1067"/><polygon class="tp" points="1595,964 1624,962 1624,973 1595,975"/><text class="nt"><tspan x="1608" y="987">Notification that</tspan><tspan x="1608" y="1002">dimension has</tspan><tspan x="1608" y="1017">unanswered</tspan><tspan x="1608" y="1032">questions, clicking</tspan><tspan x="1608" y="1048">link will jump user</tspan><tspan x="1608" y="1063">to it</tspan></text></g>
<g id="note-visible2"><polygon class="gy" points="2286,861 2364,862 2363,932 2285,931"/><polygon class="tp" points="2312,856 2335,853 2335,865 2312,867"/><text class="nt"><tspan x="2322" y="879">Do we still</tspan><tspan x="2322" y="894">want this</tspan><tspan x="2322" y="909">visible</tspan><tspan x="2322" y="925">here?</tspan></text></g>
<g id="note-resources"><polygon class="gb" points="2937,873 3027,875 3026,930 2936,929"/><polygon class="tp" points="2970,869 2993,866 2993,877 2970,879"/><text class="nt"><tspan x="2981" y="891">New</tspan><tspan x="2981" y="906">Resources</tspan><tspan x="2981" y="921">column</tspan></text></g>
<g id="note-improved"><polygon class="gb" points="2924,984 3041,986 3040,1054 2923,1053"/><polygon class="tp" points="2967,979 2996,976 2996,987 2967,989"/><text class="nt"><tspan x="2981" y="1002">Improved</tspan><tspan x="2981" y="1017">(dynamic)</tspan><tspan x="2981" y="1032">recommendations</tspan><tspan x="2981" y="1047">section</tspan></text></g>
<g id="note-description"><polygon class="gy" points="3043,838 3134,839 3133,903 3042,902"/><polygon class="tp" points="3077,833 3098,831 3098,842 3077,843"/><text class="nt"><tspan x="3087" y="855">Is this waht is</tspan><tspan x="3087" y="869">meant by</tspan><tspan x="3087" y="883">description</tspan><tspan x="3087" y="897">info?</tspan></text></g>
<g id="note-questions"><polygon class="gb" points="1368,1584 1485,1585 1484,1656 1367,1655"/><polygon class="tp" points="1412,1580 1440,1577 1440,1588 1412,1590"/><text class="nt"><tspan x="1425" y="1602">Questions stored</tspan><tspan x="1425" y="1618">in DB for easier</tspan><tspan x="1425" y="1633">management</tspan></text></g>
<g id="note-data"><polygon class="gb" points="2199,1592 2297,1594 2296,1678 2198,1677"/><polygon class="tp" points="2235,1588 2259,1585 2259,1596 2235,1598"/><text class="nt"><tspan x="2247" y="1610">Data will be</tspan><tspan x="2247" y="1625">stored in DB so</tspan><tspan x="2247" y="1640">admin can view</tspan><tspan x="2247" y="1654">it</tspan></text></g>
<g id="note-analytics"><polygon class="gb" points="2921,1593 3006,1594 3005,1653 2920,1652"/><polygon class="tp" points="2952,1588 2975,1585 2975,1596 2952,1598"/><text class="nt"><tspan x="2963" y="1611">Display basic</tspan><tspan x="2963" y="1626">analytics for</tspan><tspan x="2963" y="1640">admin</tspan></text></g>

<g id="connectors">
<path class="st" d="M499 306V1775" style="stroke:#777"/>
<path class="st" marker-end="url(#a)" d="M499 306H858"/>
<path class="st" marker-end="url(#a)" d="M499 1118H857"/>
<path class="st" marker-end="url(#a)" d="M499 1775H858"/>
<path class="st" marker-end="url(#a)" d="M1349 1118H1701"/>
<path class="st" marker-end="url(#a)" d="M2193 1123H2422"/>
<path class="st" marker-end="url(#a)" d="M2913 1123H3153"/>
<path class="st" marker-end="url(#a)" d="M1351 1775H1700"/>
<path class="st" marker-end="url(#a)" d="M2180 1771H2422"/>
<path class="cv" marker-end="url(#c)" d="M1194 322C1235 190 1280 130 1345 136C1370 138 1385 143 1398 149"/>
<path class="cv" marker-end="url(#c)" d="M897 921C890 885 868 866 823 856"/>
<path class="cv" marker-end="url(#c)" d="M943 1065C890 1090 830 1115 781 1163"/>
<path class="cv" marker-end="url(#c)" d="M1251 952C1285 890 1320 870 1380 874C1405 875 1420 876 1433 879"/>
<path class="cv" marker-end="url(#c)" d="M1268 1090C1285 1030 1310 1010 1350 1013C1380 1015 1405 1025 1421 1031"/>
<path class="cv" marker-end="url(#c)" d="M1259 1179C1290 1150 1320 1124 1365 1124C1395 1124 1412 1130 1426 1142"/>
<path class="cv" marker-end="url(#c)" d="M1262 1241C1268 1220 1285 1212 1310 1214C1345 1216 1390 1230 1426 1238"/>
<path class="cv" marker-end="url(#c)" d="M1737 922C1720 885 1700 860 1675 864C1662 866 1652 872 1643 879"/>
<path class="cv" marker-end="url(#c)" d="M1715 961C1703 945 1690 938 1670 938C1652 938 1637 947 1626 958"/>
<path class="cv" marker-end="url(#c)" d="M2459 921C2445 885 2425 862 2398 864C2385 865 2373 872 2365 880"/>
<path class="cv" marker-end="url(#c)" d="M2851 954C2870 900 2895 852 2918 853C2926 853 2932 856 2937 862"/>
<path class="cv" marker-end="url(#c)" d="M2752 1001C2790 1050 2830 1085 2885 1088C2915 1089 2935 1075 2949 1060"/>
<path class="cv" marker-end="url(#c)" d="M3192 858C3175 840 3160 815 3132 815C3122 815 3113 822 3108 831"/>
<text class="lab" x="506" y="302">New user signs up</text>
<text class="lab" x="505" y="1112">Existing user logs in</text>
<text class="lab" x="506" y="1770">Admin logs in</text>
<text class="lab" x="1417" y="1113">User completes survey</text>
<text class="lab" x="2198" y="1118">User views report card</text>
<text class="lab" x="2917" y="1118">User exports report card</text>
<text class="lab" x="1370" y="1770">Admin views stored data</text>
<text class="lab" x="2198" y="1767">Admin views analytics</text>
</g>

<g id="captions">
<text class="cap" x="858" y="578">US 3.01 - Create Account</text>
<text class="cap" x="49" y="1270">US 3.02 - Login</text>
<text class="cap"><tspan x="858" y="1351">US 1.01 - Navigate Dimensions</tspan><tspan x="858" y="1381">US 1.03 - Permanent Textbox</tspan><tspan x="858" y="1411">US 1.04 - Spectrum questions</tspan><tspan x="858" y="1441">US 2.01 - Filter User Type</tspan><tspan x="858" y="1471">US 2.02 - Filter Life Cycle</tspan><tspan x="858" y="1501">US 2.02 - Filter Domain/Region</tspan><tspan x="858" y="1531">US 5.01 - Page Format</tspan><tspan x="858" y="1561">US 5.02 - Heirarchy Questions</tspan></text>
<text class="cap" x="1700" y="1351">US 1.02 - Unanswered Questions</text>
<text class="cap"><tspan x="2423" y="1351">US 4.01 - Improve Recommendations</tspan><tspan x="2423" y="1381">US 4.02 - Resources Column</tspan><tspan x="2423" y="1411">US 4.03 - Trusted AI Services</tspan><tspan x="2423" y="1441">US 4.04 - Report Card Description</tspan></text>
<text class="cap" x="3153" y="1351">US 4.04 - Report Card Description</text>
<text class="cap"><tspan x="861" y="2015">US 5.03 - Questions Database</tspan><tspan x="861" y="2045">US 5.07 - Questions Managment</tspan></text>
<text class="cap" x="1700" y="2015">US 5.04 - Data Storage</text>
<text class="cap" x="2424" y="2015">US 5.06 - Basic Analytics</text>
</g>
</svg>
